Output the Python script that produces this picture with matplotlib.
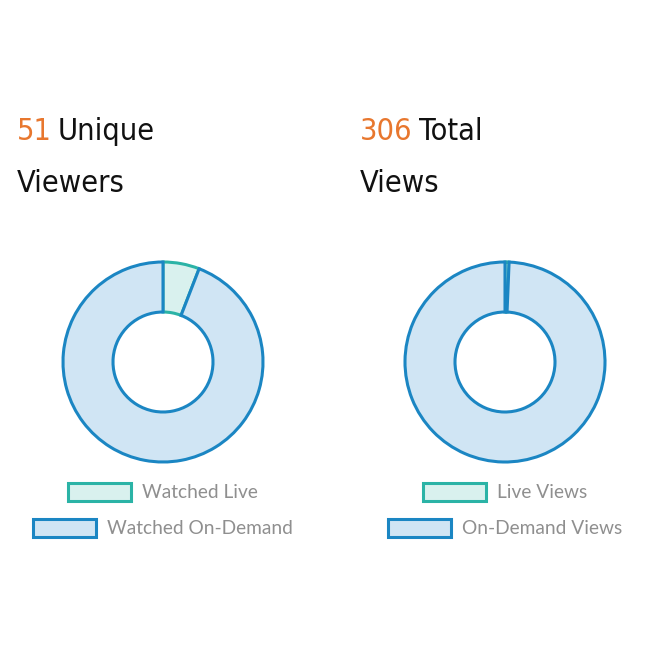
import matplotlib
matplotlib.use("Agg")
import matplotlib.pyplot as plt
from matplotlib.patches import Patch

# data
viewers_num = "51"
viewers_rest = ["Unique", "Viewers"]
viewers_labels = ["Watched Live", "Watched On-Demand"]
viewers_vals = [3, 48]

views_num = "306"
views_rest = ["Total", "Views"]
views_labels = ["Live Views", "On-Demand Views"]
views_vals = [2, 304]

live_face = "#d9f1ee"
live_edge = "#2bb3a6"
od_face = "#d0e5f4"
od_edge = "#1b86c3"
orange = "#e8772e"

W = 650.0
fig = plt.figure(figsize=(6.5, 6.5), dpi=100)


def donut(cx, cy, r, vals, labels):
    ax = fig.add_axes([(cx - r * 1.03) / W, (W - cy - r * 1.03) / W, r * 2.06 / W, r * 2.06 / W])
    wedges, _ = ax.pie(vals, startangle=90, counterclock=False,
                       colors=[live_face, od_face],
                       wedgeprops=dict(width=0.5, linewidth=2.2))
    wedges[0].set_edgecolor(live_edge)
    wedges[1].set_edgecolor(od_edge)
    ax.set_xlim(-1.03, 1.03)
    ax.set_ylim(-1.03, 1.03)
    ax.set_aspect("equal")
    ax.axis("off")
    # legend rows, each centered under the donut
    for i, (lab, fc, ec) in enumerate(zip(labels, [live_face, od_face], [live_edge, od_edge])):
        h = Patch(facecolor=fc, edgecolor=ec, linewidth=2.2)
        leg = fig.legend(handles=[h], labels=[lab], loc="center",
                         bbox_to_anchor=(cx / W, (W - 492 - i * 36) / W),
                         frameon=False, handlelength=3.3, handleheight=1.05,
                         handletextpad=0.6, borderpad=0,
                         prop={"family": "Lato", "size": 13.8})
        for t in leg.get_texts():
            t.set_color("#8f8f8f")
    return ax


# title lines
kw = dict(fontsize=22, family="DejaVu Sans", fontstretch="condensed", va="baseline")
for x, num, rest in [(17, viewers_num, viewers_rest), (360, views_num, views_rest)]:
    t1 = fig.text(x / W, (W - 140) / W, num, color=orange, **kw)
    fig.canvas.draw()
    bb = t1.get_window_extent()
    fig.text((bb.x1 + 6) / W, (W - 140) / W, rest[0], color="#111111", **kw)
    fig.text(x / W, (W - 192) / W, rest[1], color="#111111", **kw)

donut(163, 362, 100, viewers_vals, viewers_labels)
donut(505, 362, 100, views_vals, views_labels)

fig.savefig("out.png", dpi=100, facecolor="white")
